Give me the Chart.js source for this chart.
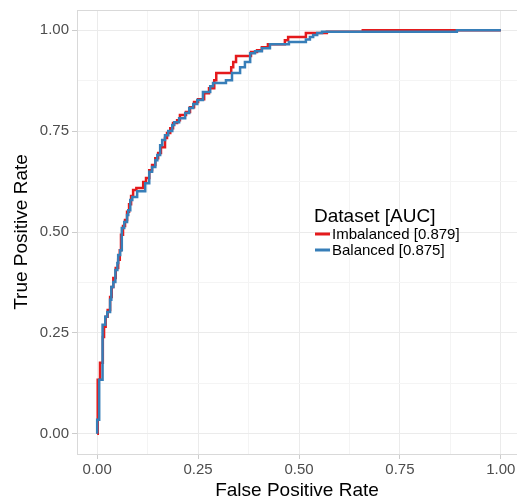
<!DOCTYPE html>
<html>
<head>
<meta charset="utf-8">
<script src="https://cdn.jsdelivr.net/npm/chart.js@4.4.1/dist/chart.umd.min.js"></script>
<style>
    html, body { margin: 0; padding: 0; background: #ffffff; overflow: hidden; }
    #contenedor { width: 517px; height: 502px; }
</style>
</head>
<body>
<div id="contenedor"><canvas id="canvaRoc" width="517" height="502"></canvas></div>
<script>
// curvas ROC (esquinas de cada escalon)
const balancedFpr = [0, 0.005, 0.012, 0.014, 0.020, 0.025, 0.032, 0.035, 0.040, 0.045, 0.050, 0.052, 0.057, 0.061, 0.067, 0.074, 0.077, 0.082, 0.087, 0.099, 0.119, 0.129, 0.136, 0.144, 0.149, 0.156, 0.161, 0.168, 0.176, 0.186, 0.191, 0.203, 0.218, 0.228, 0.238, 0.248, 0.262, 0.280, 0.287, 0.319, 0.334, 0.354, 0.366, 0.379, 0.391, 0.408, 0.428, 0.475, 0.517, 0.527, 0.535, 0.545, 0.557, 0.891, 1.0];
const balancedTpr = [0, 0.035, 0.134, 0.250, 0.270, 0.290, 0.302, 0.332, 0.364, 0.376, 0.406, 0.423, 0.443, 0.455, 0.510, 0.525, 0.542, 0.554, 0.579, 0.587, 0.601, 0.621, 0.649, 0.661, 0.678, 0.691, 0.715, 0.728, 0.740, 0.750, 0.765, 0.772, 0.782, 0.795, 0.807, 0.817, 0.827, 0.847, 0.861, 0.869, 0.876, 0.894, 0.908, 0.921, 0.943, 0.948, 0.955, 0.965, 0.971, 0.977, 0.983, 0.988, 0.993, 0.996, 1.0];

const imbalancedFpr = [0, 0.002, 0.007, 0.014, 0.017, 0.021, 0.026, 0.032, 0.036, 0.040, 0.046, 0.052, 0.056, 0.059, 0.064, 0.069, 0.074, 0.079, 0.084, 0.089, 0.097, 0.114, 0.121, 0.129, 0.136, 0.144, 0.151, 0.158, 0.168, 0.173, 0.181, 0.188, 0.198, 0.205, 0.220, 0.230, 0.240, 0.250, 0.265, 0.277, 0.290, 0.295, 0.332, 0.337, 0.344, 0.381, 0.396, 0.408, 0.423, 0.465, 0.473, 0.517, 0.569, 0.658, 1.0];
const imbalancedTpr = [0, 0.035, 0.134, 0.176, 0.240, 0.265, 0.290, 0.307, 0.339, 0.364, 0.386, 0.411, 0.431, 0.455, 0.493, 0.515, 0.530, 0.550, 0.569, 0.589, 0.604, 0.609, 0.624, 0.634, 0.653, 0.666, 0.683, 0.696, 0.710, 0.733, 0.745, 0.757, 0.770, 0.777, 0.790, 0.797, 0.809, 0.822, 0.829, 0.844, 0.856, 0.876, 0.894, 0.908, 0.921, 0.936, 0.946, 0.950, 0.958, 0.965, 0.975, 0.983, 0.993, 0.996, 1.0];

const seriesNombres = ["Imbalanced [0.879]", "Balanced [0.875]"];
const seriesColores = ["#E41A1C", "#377EB8"];
const tituloLeyenda = "Dataset [AUC]";

Chart.defaults.font.family = "'Liberation Sans', Arial, sans-serif";

// sube primero y luego avanza, como una curva ROC
function escalera(fpr, tpr) {
    let puntos = [{ x: fpr[0], y: tpr[0] }];
    for (let i = 1; i < fpr.length; i++) {
        puntos.push({ x: fpr[i - 1], y: tpr[i] });
        puntos.push({ x: fpr[i], y: tpr[i] });
    }
    return puntos;
}

function esMayor(valor) {
    return Math.abs(valor / 0.25 - Math.round(valor / 0.25)) < 1e-6;
}

const pluginMarco = {
    id: "marcoYLeyenda",
    afterDraw(chart) {
        const ctx = chart.ctx;
        const area = chart.chartArea;
        ctx.save();
        // linea superior del panel
        ctx.strokeStyle = "#d9d9d9";
        ctx.lineWidth = 1;
        ctx.beginPath();
        ctx.moveTo(area.left, area.top + 0.5);
        ctx.lineTo(area.right, area.top + 0.5);
        ctx.stroke();

        // leyenda dentro del panel
        ctx.fillStyle = "#000000";
        ctx.textBaseline = "alphabetic";
        ctx.textAlign = "left";
        ctx.font = "19px 'Liberation Sans', Arial, sans-serif";
        ctx.fillText(tituloLeyenda, 314, 222);
        ctx.font = "15px 'Liberation Sans', Arial, sans-serif";
        ctx.textBaseline = "middle";
        seriesNombres.forEach((nombre, i) => {
            let y = 234 + i * 16;
            ctx.strokeStyle = seriesColores[i];
            ctx.lineWidth = 3;
            ctx.beginPath();
            ctx.moveTo(315, y);
            ctx.lineTo(330, y);
            ctx.stroke();
            ctx.fillStyle = "#000000";
            ctx.fillText(nombre, 332, y + 0.5);
        });
        ctx.restore();
    }
};

const opcionesGrid = {
    color: ctx => esMayor(ctx.tick.value) ? "#ebebeb" : "#f4f4f4",
    tickColor: ctx => esMayor(ctx.tick.value) ? "#cccccc" : "rgba(0,0,0,0)",
    lineWidth: 1,
    tickLength: 5,
    drawTicks: true
};

let graficoRoc = new Chart(document.getElementById("canvaRoc"), {
    type: "line",
    data: {
        datasets: [{
            label: seriesNombres[1],
            data: escalera(balancedFpr, balancedTpr),
            borderColor: seriesColores[1],
            borderWidth: 2.5,
            pointRadius: 0,
            fill: false,
            tension: 0
        }, {
            label: seriesNombres[0],
            data: escalera(imbalancedFpr, imbalancedTpr),
            borderColor: seriesColores[0],
            borderWidth: 2.5,
            pointRadius: 0,
            fill: false,
            tension: 0
        }]
    },
    options: {
        responsive: false,
        animation: false,
        layout: { padding: { top: 10, right: 0, left: 0, bottom: 0 } },
        plugins: {
            legend: { display: false },
            tooltip: { enabled: false }
        },
        scales: {
            x: {
                type: "linear",
                min: -0.05,
                max: 1.04,
                afterFit: scale => {
                    scale.height = 48;
                    scale.paddingLeft = 0;
                    scale.paddingRight = 0;
                },
                grid: opcionesGrid,
                border: { display: true, color: "#d9d9d9", width: 1 },
                ticks: {
                    stepSize: 0.125,
                    includeBounds: false,
                    autoSkip: false,
                    maxRotation: 0,
                    padding: 2,
                    color: "#4d4d4d",
                    font: { size: 15 },
                    callback: valor => esMayor(valor) ? valor.toFixed(2) : ""
                },
                title: {
                    display: true,
                    text: "False Positive Rate",
                    color: "#000000",
                    font: { size: 19 },
                    padding: { top: 0, bottom: 0 }
                }
            },
            y: {
                type: "linear",
                min: -0.05,
                max: 1.05,
                afterFit: scale => {
                    scale.width = 77;
                    scale.paddingTop = 0;
                    scale.paddingBottom = 0;
                },
                grid: opcionesGrid,
                border: { display: true, color: "#d9d9d9", width: 1 },
                ticks: {
                    stepSize: 0.125,
                    includeBounds: false,
                    autoSkip: false,
                    padding: 3,
                    color: "#4d4d4d",
                    font: { size: 15 },
                    callback: valor => esMayor(valor) ? valor.toFixed(2) : ""
                },
                title: {
                    display: true,
                    text: "True Positive Rate",
                    color: "#000000",
                    font: { size: 19 },
                    padding: { top: 10, bottom: 0 }
                }
            }
        }
    },
    plugins: [pluginMarco]
});
</script>
</body>
</html>
